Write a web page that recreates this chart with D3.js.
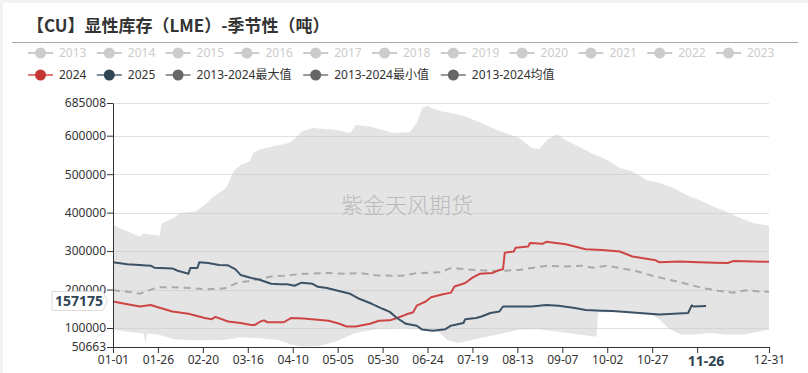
<!DOCTYPE html>
<html>
<head>
<meta charset="utf-8">
<script src="https://cdn.jsdelivr.net/npm/d3@7"></script>
<style>
  body { margin: 0; background: #fff; }
  svg { display: block; font-family: "Noto Sans", "Noto Sans CJK SC", sans-serif; }
</style>
</head>
<body>
<div id="chart"></div>
<script>
// ---- data ----
const titleText = "【CU】显性库存（LME）-季节性（吨）";
const watermark = "紫金天风期货";
const yTicks = [50663, 100000, 200000, 300000, 400000, 500000, 600000, 685008];
const xTicks = ["01-01", "01-26", "02-20", "03-16", "04-10", "05-05", "05-30", "06-24",
                "07-19", "08-13", "09-07", "10-02", "10-27", "11-21", "12-31"];
const hiddenYears = ["2013", "2014", "2015", "2016", "2017", "2018", "2019", "2020", "2021", "2022", "2023"];
const shownSeries = ["2024", "2025", "2013-2024最大值", "2013-2024最小值", "2013-2024均值"];
const pointerDate = "11-26";
const pointerValue = 157175;

const maxDates = ["01-01","01-09","01-16","01-18","01-27","01-28","02-04","02-07","02-16","02-21",
  "02-26","03-04","03-08","03-12","03-17","03-19","03-23","03-29","04-08","04-13",
  "04-15","04-21","05-04","05-12","05-15","05-23","05-30","06-05","06-14","06-18",
  "06-21","06-24","06-26","07-02","07-07","07-15","07-22","07-30","08-06","08-14",
  "08-21","08-25","08-30","09-04","09-08","09-16","09-23","10-02","10-09","10-16",
  "10-24","10-31","11-08","11-15","11-22","11-30","12-07","12-15","12-22","12-31"];
const maxValues = [368000,351000,338000,345000,340000,372000,386000,399000,403000,420000,
  442000,464000,507000,524000,533000,555000,565000,571000,581000,600000,
  611000,620000,615000,607000,628000,624000,615000,607000,609000,633000,
  672000,678000,672000,663000,659000,650000,637000,620000,607000,594000,
  568000,565000,591000,604000,591000,572000,555000,537000,516000,507000,
  485000,477000,464000,446000,433000,416000,403000,386000,373000,366000];

const minDates = ["01-01","01-09","01-16","01-18","01-19","01-20","01-26","02-04","02-13","02-22",
  "03-03","03-12","03-21","04-02","04-05","04-10","04-16","04-25","05-04","05-15",
  "05-26","06-10","06-21","06-27","07-01","07-05","07-11","07-18","08-02","08-14",
  "08-24","09-04","09-16","09-26","09-27","10-12","10-23","10-27","10-31","11-06",
  "11-12","11-19","11-28","12-07","12-17","12-26","12-31"];
const minValues = [96000,90000,87000,86000,61000,86000,83000,71000,68000,68000,
  69000,76000,74000,69000,65000,55000,52000,53000,65000,87000,
  97000,100000,96000,95000,87000,69000,61000,69000,83000,96000,
  97000,91000,83000,77000,141000,141000,139000,135000,122000,96000,
  83000,83000,87000,83000,83000,91000,96000];

const meanDates = ["01-01","01-09","01-16","01-21","01-26","02-04","02-13","02-22","03-03","03-10",
  "03-20","03-29","04-05","04-16","04-30","05-10","05-17","05-26","06-05","06-10",
  "06-18","06-26","07-01","07-07","07-15","07-24","08-02","08-14","08-21","08-30",
  "09-08","09-18","09-24","10-02","10-09","10-19","10-27","11-06","11-15","11-24",
  "12-03","12-11","12-18","12-29","12-31"];
const meanValues = [198000,194000,189000,198000,206000,206000,204000,201000,203000,217000,
  225000,234000,236000,241000,243000,241000,243000,237000,236000,236000,
  243000,244000,245000,256000,253000,250000,248000,251000,256000,262000,
  260000,262000,257000,262000,256000,247000,236000,225000,215000,204000,
  197000,192000,198000,194000,194000];

const dates2024 = ["01-01","01-09","01-16","01-22","01-26","02-03","02-12","02-21","02-25","02-27",
  "03-05","03-12","03-18","03-20","03-23","03-25","03-27","04-05","04-09","04-16",
  "04-30","05-06","05-10","05-15","05-23","05-28","06-03","06-07","06-12","06-16",
  "06-18","06-23","06-26","07-02","07-07","07-09","07-15","07-19","07-23","07-30",
  "08-03","08-05","08-06","08-11","08-12","08-19","08-20","08-27","08-29","09-09",
  "09-20","09-29","10-09","10-16","10-29","10-31","11-11","11-22","12-01","12-08",
  "12-11","12-31"];
const values2024 = [169000,162000,156000,160000,154000,143000,137000,126000,123000,129000,
  117000,113000,108000,108000,117000,120000,115000,115000,126000,125000,
  119000,111000,104000,104000,111000,119000,120000,126000,135000,141000,
  158000,169000,180000,187000,192000,208000,217000,231000,241000,243000,
  251000,253000,296000,299000,309000,312000,321000,319000,324000,318000,
  305000,303000,299000,286000,276000,271000,273000,271000,270000,269000,
  274000,272000];

const dates2025 = ["01-01","01-09","01-22","01-24","02-03","02-06","02-12","02-13","02-17","02-18",
  "02-23","02-29","03-05","03-09","03-12","03-18","03-23","03-29","04-03","04-07",
  "04-11","04-15","04-21","04-24","04-29","05-04","05-12","05-17","05-24","05-30",
  "06-03","06-07","06-12","06-18","06-21","06-27","07-04","07-07","07-14","07-15",
  "07-21","07-24","07-29","08-03","08-05","08-21","08-29","09-05","09-14","09-20",
  "09-29","10-05","10-20","10-31","11-08","11-16","11-18","11-19","11-26"];
const values2025 = [271000,266000,262000,257000,255000,249000,241000,256000,256000,271000,
  269000,264000,263000,253000,238000,230000,225000,215000,214000,214000,
  210000,218000,215000,207000,204000,198000,189000,176000,163000,150000,
  142000,126000,111000,106000,96000,93000,97000,106000,113000,123000,
  126000,130000,139000,143000,156000,156000,160000,158000,152000,147000,
  145000,144000,139000,135000,137000,139000,159000,156000,157175];

// ---- layout ----
const W = 808, H = 373;
const plot = { left: 113, right: 769, top: 103, bottom: 347 };

const svg = d3.select("#chart").append("svg")
  .attr("width", W).attr("height", H);

// page frame
svg.append("rect").attr("width", W).attr("height", 3).attr("fill", "#f2f2f2");
svg.append("rect").attr("width", 3).attr("height", H).attr("fill", "#f2f2f2");

// title
svg.append("text")
  .attr("x", 27).attr("y", 32)
  .style("font-family", "'Noto Sans CJK SC', sans-serif")
  .style("font-size", "17px").style("font-weight", "bold")
  .attr("fill", "#333")
  .text(titleText);
svg.append("line")
  .attr("x1", 12).attr("x2", 798).attr("y1", 42.5).attr("y2", 42.5)
  .attr("stroke", "#aaa");

// legend
const colW = 68.8;
function legendItem(x, y, label, lineColor, dotColor, textColor) {
  const g = svg.append("g").attr("transform", `translate(${x},${y})`);
  g.append("line").attr("x1", 0).attr("x2", 25).attr("stroke", lineColor).attr("stroke-width", 2);
  g.append("circle").attr("cx", 12.5).attr("r", 5.5).attr("fill", dotColor);
  g.append("text").attr("x", 31).attr("dy", "0.35em")
    .style("font-size", "12px").style("font-family", "'Noto Sans', 'Noto Sans CJK SC', sans-serif")
    .attr("fill", textColor).text(label);
}
hiddenYears.forEach((yr, i) => legendItem(28 + i * colW, 53, yr, "#ccc", "#ccc", "#ccc"));
const legendCols = [0, 1, 2, 4, 6];
const legendLine = ["#e07a78", "#7d8d9a", "#999", "#999", "#999"];
const legendDot = ["#c23531", "#2f4554", "#666", "#666", "#666"];
shownSeries.forEach((s, i) =>
  legendItem(28 + legendCols[i] * colW, 75, s, legendLine[i], legendDot[i], "#333"));

// scales
const fmt = d3.timeFormat("%m-%d");
const days = d3.timeDay.range(new Date(2024, 0, 1), new Date(2025, 0, 1)).map(fmt);
const x = d3.scalePoint().domain(days).range([plot.left, plot.right]);
const y = d3.scaleLinear().domain([yTicks[0], yTicks[yTicks.length - 1]])
  .range([plot.bottom, plot.top]);

// grid lines
svg.append("g").selectAll("line")
  .data(yTicks.slice(1))
  .enter().append("line")
  .attr("x1", plot.left).attr("x2", plot.right)
  .attr("y1", d => Math.round(y(d)) + 0.5).attr("y2", d => Math.round(y(d)) + 0.5)
  .attr("stroke", "#e0e0e0");

// max/min band
const pts = (dates, vals) => dates.map((d, i) => [x(d), y(vals[i])]);
const band = pts(maxDates, maxValues).concat(pts(minDates, minValues).reverse());
svg.append("path")
  .attr("d", d3.line()(band) + "Z")
  .attr("fill", "#cccccc").attr("fill-opacity", 0.52);

// watermark
svg.append("text")
  .attr("x", 407).attr("y", 205).attr("text-anchor", "middle").attr("dy", "0.35em")
  .style("font-family", "'Noto Sans CJK SC', sans-serif")
  .style("font-size", "22px").style("font-weight", 300)
  .attr("fill", "#bbb")
  .text(watermark);

// lines
const line = d3.line().x(d => d[0]).y(d => d[1]);
svg.append("path")
  .attr("d", line(pts(meanDates, meanValues)))
  .attr("fill", "none").attr("stroke", "#aaa").attr("stroke-width", 2)
  .attr("stroke-dasharray", "7,5");
svg.append("path")
  .attr("d", line(pts(dates2024, values2024)))
  .attr("fill", "none").attr("stroke", "#cd4644").attr("stroke-width", 2)
  .attr("stroke-linejoin", "round");
svg.append("path")
  .attr("d", line(pts(dates2025, values2025)))
  .attr("fill", "none").attr("stroke", "#3c5264").attr("stroke-width", 2)
  .attr("stroke-linejoin", "round");

// axes (the 11-21 label sits under the pointer label, so it is left blank)
const yAxis = svg.append("g")
  .attr("transform", `translate(${plot.left},0)`)
  .call(d3.axisLeft(y).tickValues(yTicks).tickFormat(d => d).tickSizeOuter(0));
const xAxis = svg.append("g")
  .attr("transform", `translate(0,${plot.bottom})`)
  .call(d3.axisBottom(x).tickValues(xTicks)
    .tickFormat(d => Math.abs(x(d) - x(pointerDate)) < 30 ? "" : d)
    .tickSizeOuter(0));
[yAxis, xAxis].forEach(a => {
  a.select(".domain").attr("stroke", "#333");
  a.selectAll(".tick line").attr("stroke", "#333");
  a.selectAll("text").attr("fill", "#333")
    .style("font-size", "12px").style("font-family", "'Noto Sans', sans-serif");
});
yAxis.selectAll("text").attr("x", -7);
xAxis.selectAll("text").attr("y", 8);

// axis pointer labels
const px = x(pointerDate);
svg.append("text")
  .attr("x", px).attr("y", plot.bottom + 14).attr("dy", "0.35em").attr("text-anchor", "middle")
  .style("font-size", "14px").style("font-weight", "bold")
  .style("font-family", "'Noto Sans', sans-serif")
  .attr("fill", "#2f4554")
  .text(pointerDate);

const py = y(pointerValue) - 5;
const box = d3.path();
box.moveTo(52, py - 9.5);
box.lineTo(103, py - 9.5);
box.lineTo(107.5, py);
box.lineTo(103, py + 9.5);
box.lineTo(52, py + 9.5);
box.closePath();
svg.append("path").attr("d", box.toString())
  .attr("fill", "#fff").attr("stroke", "#ddd");
svg.append("text")
  .attr("x", 79).attr("y", py).attr("dy", "0.35em").attr("text-anchor", "middle")
  .style("font-size", "14px").style("font-weight", "bold")
  .style("font-family", "'Noto Sans', sans-serif")
  .attr("fill", "#2f4554")
  .text(d3.format("d")(pointerValue));
</script>
</body>
</html>
